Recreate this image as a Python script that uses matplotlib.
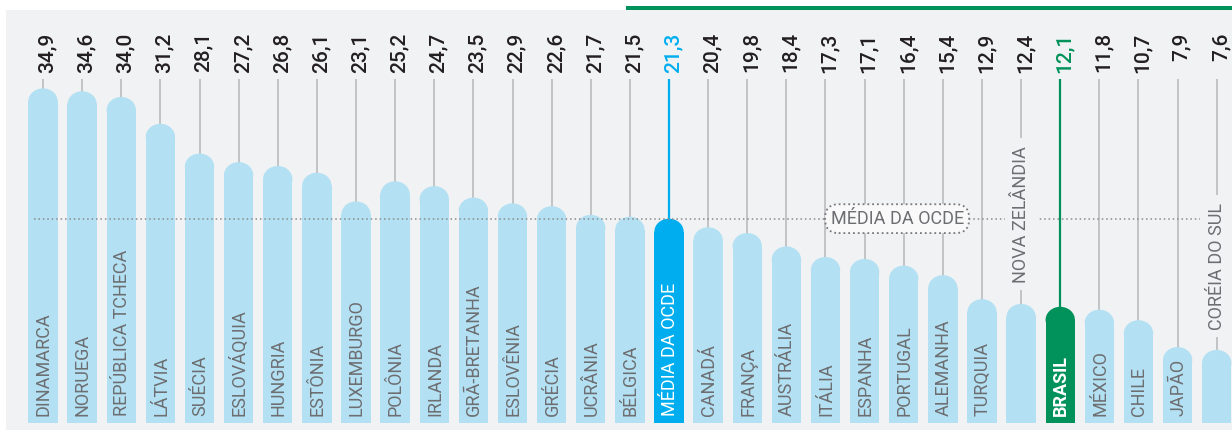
import matplotlib
matplotlib.use("Agg")
import matplotlib.pyplot as plt
from matplotlib.patches import Ellipse, Rectangle

plt.rcParams['font.family'] = ['Roboto', 'DejaVu Sans']

# dados
paises = ["DINAMARCA", "NORUEGA", "REPÚBLICA TCHECA", "LÁTVIA", "SUÉCIA",
          "ESLOVÁQUIA", "HUNGRIA", "ESTÔNIA", "LUXEMBURGO", "POLÔNIA",
          "IRLANDA", "GRÃ-BRETANHA", "ESLOVÊNIA", "GRÉCIA", "UCRÂNIA",
          "BÉLGICA", "MÉDIA DA OCDE", "CANADÁ", "FRANÇA", "AUSTRÁLIA",
          "ITÁLIA", "ESPANHA", "PORTUGAL", "ALEMANHA", "TURQUIA",
          "NOVA ZELÂNDIA", "BRASIL", "MÉXICO", "CHILE", "JAPÃO",
          "CORÉIA DO SUL"]
valores = [34.9, 34.6, 34.0, 31.2, 28.1, 27.2, 26.8, 26.1, 23.1, 25.2,
           24.7, 23.5, 22.9, 22.6, 21.7, 21.5, 21.3, 20.4, 19.8, 18.4,
           17.3, 17.1, 16.4, 15.4, 12.9, 12.4, 12.1, 11.8, 10.7, 7.9, 7.6]
media_ocde = 21.3

# estilo
FUNDO = "#f1f2f4"
AZUL_CLARO = "#b3e1f3"
AZUL = "#00aeef"
VERDE = "#00925a"
CINZA_LINHA = "#bfc0c2"
CINZA_TEXTO = "#6d6e71"
PRETO = "#231f20"

destaques = {"MÉDIA DA OCDE": AZUL, "BRASIL": VERDE}
fora_da_barra = {"NOVA ZELÂNDIA": 21.75, "CORÉIA DO SUL": 16.35}

fig = plt.figure(figsize=(12.32, 4.30), dpi=100, facecolor="white")
ax = fig.add_axes([6 / 1232, 0, 1226 / 1232, 420 / 430])
ax.set_xlim(-0.946, 30.39)
ax.set_ylim(-0.76, 43.08)
ax.axis('off')
ax.add_patch(Rectangle((0, 0), 1, 1, transform=ax.transAxes,
                       color=FUNDO, zorder=0))

largura = 0.75
ry = 1.36
topo_linha = 35.87
topo_texto = 40.75

for i, (nome, v) in enumerate(zip(paises, valores)):
    cor = destaques.get(nome, AZUL_CLARO)
    cor_linha = destaques.get(nome, CINZA_LINHA)
    cor_valor = destaques.get(nome, PRETO)

    ax.bar(i, v - ry, width=largura, color=cor, linewidth=0, zorder=2)
    ax.add_patch(Ellipse((i, v - ry), largura, 2 * ry, color=cor,
                         linewidth=0, zorder=2))
    ax.vlines(i, v - ry, topo_linha, color=cor_linha,
              lw=1.6 if nome in destaques else 1.3, zorder=1)

    ax.text(i + 0.1, topo_texto, f"{v:.1f}".replace(".", ","),
            rotation=90, ha="center", va="top", fontsize=15,
            fontweight="medium", color=cor_valor)

    if nome in fora_da_barra:
        ax.text(i, fora_da_barra[nome], nome, rotation=90, ha="center",
                va="center", fontsize=13, color=CINZA_TEXTO, zorder=4,
                bbox=dict(boxstyle="square,pad=0.42", fc=FUNDO, ec="none"))
    else:
        branco = nome in destaques
        ax.text(i + 0.02, 0.7, nome, rotation=90, ha="center", va="bottom",
                fontsize=13, color="white" if branco else CINZA_TEXTO,
                fontweight="bold" if nome == "BRASIL" else "normal",
                zorder=3)

# linha da média da OCDE
ax.plot([-0.23, 30.39], [media_ocde, media_ocde], color="#8a8b8d",
        lw=1.1, ls=(0, (1, 1.9)), zorder=3)
ax.text(21.83, media_ocde, "MÉDIA DA OCDE", ha="center", va="center",
        fontsize=13, color=CINZA_TEXTO, zorder=5,
        bbox=dict(boxstyle="round,pad=0.3,rounding_size=0.75", fc="#f9f9fa",
                  ec="#77787b", ls=":", lw=1.3))

# barra verde no topo
fig.add_artist(Rectangle((625.7 / 1232, (430 - 9.7) / 430), 1 - 625.7 / 1232,
                         3.7 / 430, transform=fig.transFigure, color=VERDE,
                         linewidth=0))

fig.savefig("out.png", dpi=100, facecolor="white")
